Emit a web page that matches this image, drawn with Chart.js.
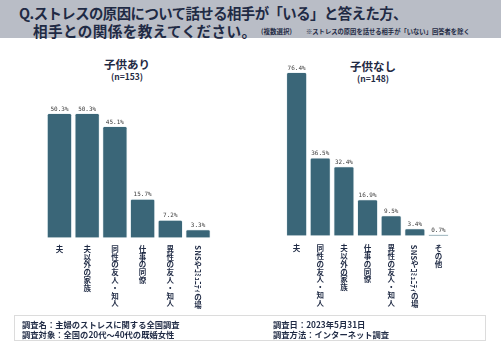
<!DOCTYPE html>
<html><head><meta charset="utf-8">
<script src="https://cdn.jsdelivr.net/npm/chart.js@4.4.1/dist/chart.umd.min.js"></script>
<style>
html,body{margin:0;padding:0;background:#fff;}
#wrap{position:relative;width:501px;height:354px;overflow:hidden;font-family:"Noto Sans CJK JP",sans-serif;color:#1f2a44;}
#band{position:absolute;left:0;top:0;width:501px;height:38px;background:#b9bdc6;}
.t{position:absolute;white-space:nowrap;font-weight:bold;}
canvas{position:absolute;left:0;top:0;}
#foot{position:absolute;left:14px;top:315px;width:472px;height:26px;border:1px solid #dcdcdc;box-sizing:border-box;}
</style></head><body>
<div id="wrap">
<div id="band"></div>
<div class="t" style="left:19px;top:3px;font-size:14.4px;line-height:19px;letter-spacing:-0.55px;">Q.ストレスの原因について話せる相手が「いる」と答えた方、</div>
<div class="t" style="left:33px;top:21px;font-size:14.6px;line-height:19px;letter-spacing:0.4px;">相手との関係を教えてください。</div>
<div class="t" style="left:261px;top:27px;font-size:6.5px;line-height:9px;">(複数選択)</div>
<div class="t" style="left:306px;top:27px;font-size:6.3px;line-height:9px;">※ストレスの原因を話せる相手が「いない」回答者を除く</div>
<div class="t" style="left:77px;width:100px;text-align:center;top:57px;font-size:11.5px;line-height:14px;">子供あり</div>
<div class="t" style="left:77px;width:100px;text-align:center;top:71px;font-size:8.5px;line-height:11px;">(n=153)</div>
<div class="t" style="left:323px;width:100px;text-align:center;top:59px;font-size:11.5px;line-height:14px;">子供なし</div>
<div class="t" style="left:323px;width:100px;text-align:center;top:73px;font-size:8.5px;line-height:11px;">(n=148)</div>
<canvas id="c1" width="501" height="354"></canvas>
<canvas id="c2" width="501" height="354"></canvas>
<div id="foot"></div>
<div class="t" style="left:22px;top:319px;font-size:8.3px;line-height:10px;">調査名：主婦のストレスに関する全国調査</div>
<div class="t" style="left:22px;top:329px;font-size:8.3px;line-height:10px;">調査対象：全国の20代～40代の既婚女性</div>
<div class="t" style="left:273px;top:319px;font-size:8.3px;line-height:10px;">調査日：2023年5月31日</div>
<div class="t" style="left:273px;top:329px;font-size:8.3px;line-height:10px;">調査方法：インターネット調査</div>
</div>
<script>
const catsWithKids = ['夫','夫以外の家族','同性の友人・知人','仕事の同僚','異性の友人・知人','SNSやｺﾐｭﾆﾃｨの場'];
const valsWithKids = [50.3, 50.3, 45.1, 15.7, 7.2, 3.3];
const catsNoKids = ['夫','同性の友人・知人','夫以外の家族','仕事の同僚','異性の友人・知人','SNSやｺﾐｭﾆﾃｨの場','その他'];
const valsNoKids = [76.4, 36.5, 32.4, 16.9, 9.5, 3.4, 0.7];

const BAR = '#3a6678';
const TEXT = '#1f2a44';

function isHalf(ch){
  const c = ch.charCodeAt(0);
  return c < 0x2000 || (c >= 0xFF61 && c <= 0xFF9F);
}

const labelPlugin = {
  id: 'vlabels',
  afterDraw(chart, args, opts){
    const ctx = chart.ctx;
    const xs = chart.scales.x;
    const ys = chart.scales.y;
    const ds = chart.data.datasets[0];
    ctx.save();
    ctx.font = '6px "DejaVu Sans Mono", monospace';
    ctx.fillStyle = '#3a3a3a';
    ctx.textAlign = 'center';
    ctx.textBaseline = 'alphabetic';
    ds.data.forEach((v, i) => {
      const x = xs.getPixelForValue(i);
      const y = ys.getPixelForValue(v);
      ctx.fillText(v.toFixed(1) + '%', x, y - 2.5);
    });
    const fs = 7.5, pitch = 7.8;
    ctx.fillStyle = TEXT;
    ctx.font = 'bold ' + fs + 'px "Noto Sans CJK JP", sans-serif';
    chart.data.labels.forEach((lab, i) => {
      const x = xs.getPixelForValue(i);
      let y = ys.getPixelForValue(0) + opts.gap;
      for (const ch of lab) {
        if (isHalf(ch)) {
          const w = ctx.measureText(ch).width;
          ctx.save();
          ctx.translate(x, y);
          ctx.rotate(Math.PI / 2);
          ctx.textAlign = 'left';
          ctx.textBaseline = 'middle';
          ctx.fillText(ch, 0, 0.5);
          ctx.restore();
          y += w + 0.3;
        } else {
          ctx.textAlign = 'center';
          ctx.textBaseline = 'top';
          ctx.fillText(ch, x, y);
          y += pitch;
        }
      }
    });
    ctx.restore();
  }
};

function makeChart(id, labels, data, pad, ymax, barPct, gap){
  return new Chart(document.getElementById(id), {
    type: 'bar',
    data: { labels: labels, datasets: [{
      data: data,
      backgroundColor: BAR,
      borderColor: 'rgba(225,236,240,0.9)',
      borderWidth: 0.8,
      borderRadius: 2,
      borderSkipped: 'bottom',
      barPercentage: barPct,
      categoryPercentage: 1
    }]},
    options: {
      responsive: false,
      animation: false,
      events: [],
      layout: { padding: pad },
      plugins: { legend: { display: false }, tooltip: { enabled: false }, vlabels: { gap: gap } },
      scales: {
        x: { display: false },
        y: { display: false, min: 0, max: ymax }
      }
    },
    plugins: [labelPlugin]
  });
}

makeChart('c1', catsWithKids, valsWithKids,
  { left: 45.6, right: 501 - 211.9, top: 237.7 - 60 * 2.473, bottom: 354 - 237.7 }, 60, 0.9, 7.5);
makeChart('c2', catsNoKids, valsNoKids,
  { left: 284.8, right: 501 - 450.3, top: 235.7 - 90 * 2.139, bottom: 354 - 235.7 }, 90, 0.875, 9);
</script>
</body></html>
